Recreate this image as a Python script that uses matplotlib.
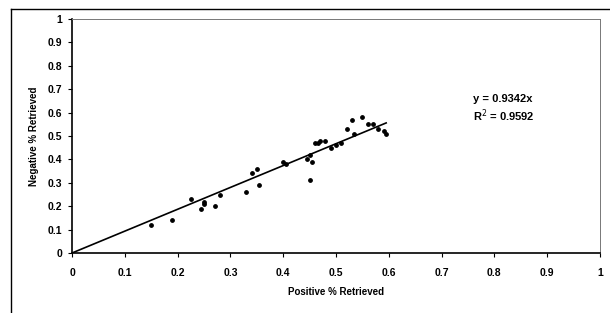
import matplotlib
matplotlib.use("Agg")
import matplotlib.pyplot as plt
import numpy as np
from matplotlib.lines import Line2D

plt.rcParams['font.family'] = ['Liberation Sans', 'DejaVu Sans']

# Data
pos_retrieved = [0.15, 0.19, 0.225, 0.245, 0.25, 0.25, 0.27, 0.28, 0.33, 0.34,
                 0.35, 0.355, 0.40, 0.405, 0.445, 0.45, 0.45, 0.455, 0.46, 0.465,
                 0.47, 0.48, 0.49, 0.50, 0.51, 0.52, 0.53, 0.535, 0.55, 0.56,
                 0.57, 0.58, 0.59, 0.595]
neg_retrieved = [0.12, 0.14, 0.23, 0.19, 0.21, 0.22, 0.20, 0.25, 0.26, 0.34,
                 0.36, 0.29, 0.39, 0.38, 0.40, 0.31, 0.42, 0.39, 0.47, 0.47,
                 0.48, 0.48, 0.45, 0.46, 0.47, 0.53, 0.57, 0.51, 0.58, 0.55,
                 0.55, 0.53, 0.52, 0.51]
slope = 0.9342
r_squared = 0.9592
ticks = [0, 0.1, 0.2, 0.3, 0.4, 0.5, 0.6, 0.7, 0.8, 0.9, 1]
tick_labels = ['0', '0.1', '0.2', '0.3', '0.4', '0.5', '0.6', '0.7', '0.8', '0.9', '1']

fig = plt.figure(figsize=(6.1, 3.13), dpi=100)
fig.patch.set_facecolor('white')

# outer chart frame (only left and top edges are visible in the scan)
fx, fy = 10.5 / 610, 1 - 9 / 313
fig.lines.append(Line2D([fx, fx], [0, fy], transform=fig.transFigure,
                        color='black', linewidth=1.0))
fig.lines.append(Line2D([fx, 1], [fy, fy], transform=fig.transFigure,
                        color='black', linewidth=1.0))

ax = fig.add_axes([72 / 610, 1 - 253 / 313, 528 / 610, 234 / 313])
ax.set_facecolor('none')

ax.scatter(pos_retrieved, neg_retrieved, s=6, color='black', zorder=3)

xfit = np.array([0, max(pos_retrieved)])
ax.plot(xfit, slope * xfit, color='black', linewidth=1.2)

ax.set_xlim(0, 1)
ax.set_ylim(0, 1)
ax.set_xticks(ticks)
ax.set_yticks(ticks)
ax.set_xticklabels(tick_labels)
ax.set_yticklabels(tick_labels)
ax.tick_params(direction='out', length=3, width=0.8, labelsize=7.5, pad=8)
for lbl in ax.get_xticklabels() + ax.get_yticklabels():
    lbl.set_fontweight('bold')
ax.tick_params(axis='y', pad=4)

for side in ['top', 'right']:
    ax.spines[side].set_linestyle((0, (1, 1)))
    ax.spines[side].set_color('#777777')
    ax.spines[side].set_linewidth(0.7)
ax.spines['left'].set_linewidth(1.2)
ax.spines['bottom'].set_linewidth(1.2)

ax.set_xlabel('Positive % Retrieved', fontsize=7, fontweight='bold', labelpad=6)
ax.set_ylabel('Negative % Retrieved', fontsize=7, fontweight='bold', labelpad=6)

ax.text(0.76, 0.66, f'y = {slope:.4f}x', fontsize=8, fontweight='bold',
        ha='left', va='center')
ax.text(0.76, 0.585, f'R$^2$ = {r_squared:.4f}', fontsize=8, fontweight='bold',
        ha='left', va='center')

fig.savefig('out.png', dpi=100, facecolor='white')
